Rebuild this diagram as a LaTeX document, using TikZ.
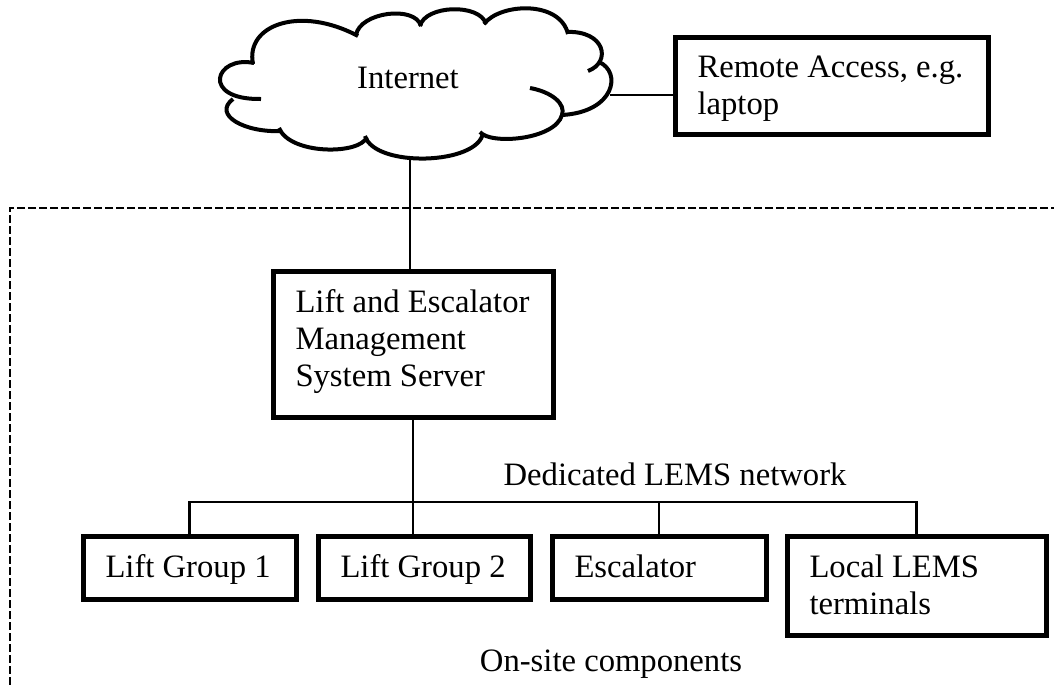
\documentclass[tikz,border=0pt]{standalone}
\usepackage{fontspec}
\setmainfont{Liberation Serif}
\usetikzlibrary{calc}
% left-aligned block of lines with a fixed width; fixed top height and
% bottom depth so that single-line boxes share one baseline
\newcommand{\unittext}[3][7.1pt]{\parbox{#2}{\rule{0pt}{27.1pt}#3\rule[-#1]{0pt}{#1}}}
\begin{document}
\begin{tikzpicture}[x=1pt,y=-1pt,
  font=\fontsize{32.66pt}{37pt}\selectfont,
  unit/.style={draw, line width=5pt, rectangle, inner xsep=22.5pt, inner ysep=0pt,
               anchor=north west},
  link/.style={line width=2.3pt},
  cloudline/.style={line width=4pt},
  boundary/.style={line width=2.8pt, dash pattern=on 8pt off 3pt}]
\useasboundingbox (0,0) rectangle (1054,686);
\clip (0,0) rectangle (1054,686);

% dashed boundary of the on-site part (runs off the right and bottom edges)
\coordinate (frameTL) at (10,208);
\draw[boundary] (1070,208) -- (frameTL) -- (10,700);

% Internet cloud, lobe by lobe
\begin{scope}[cloudline]
  \draw (253,64) .. controls (245,25) and (300,5) .. (358,36);
  \draw (356,35) .. controls (360,12) and (415,5) .. (421,26);
  \draw (420,26) .. controls (425,5) and (480,3) .. (486,24);
  \draw (484,24) .. controls (500,3) and (560,0) .. (568,34);
  \draw (566,32) .. controls (605,30) and (612,62) .. (588,71);
  \draw (599,62) .. controls (622,72) and (615,112) .. (562,115);
  \draw (530,88) .. controls (552,92) and (566,104) .. (562,115)
                 .. controls (555,140) and (490,145) .. (480,132);
  \draw (483,133) .. controls (478,165) and (375,168) .. (365,136);
  \draw (367,137) .. controls (360,155) and (290,155) .. (279,128);
  \draw (282,131) .. controls (245,133) and (212,115) .. (233,99);
  \draw (254,63) .. controls (215,55) and (200,100) .. (261,99);
\end{scope}
\node[anchor=base] (inet) at (408,88) {Internet};
\coordinate (cloudS) at (410,157);
\coordinate (cloudE) at (610,95);

% boxes
\node[unit, minimum height=97pt] (remote) at (672.5,34.5)
  {\unittext{268pt}{Remote Access, e.g.\\laptop}};
\node[unit, minimum height=146pt] (lems) at (270.5,268.5)
  {\unittext[16.1pt]{235pt}{Lift and Escalator\\Management\\System Server}};
\node[unit, minimum height=63pt] (lg1) at (80.5,533.5) {\unittext{168pt}{Lift Group 1}};
\node[unit, minimum height=63pt] (lg2) at (315.5,533.5) {\unittext{167pt}{Lift Group 2}};
\node[unit, minimum height=63pt] (esc) at (549.5,533.5) {\unittext{169pt}{Escalator}};
\node[unit, minimum height=99pt] (local) at (784.5,533.5)
  {\unittext{214pt}{Local LEMS\\terminals}};

% connections
\coordinate (bus) at (0,502);
\draw[link] (cloudS) -- (cloudS |- lems.north);
\draw[link] (cloudE) -- (cloudE -| remote.west);
\draw[link] (lems.south) -- (lems.south |- lg2.north);
\draw[link] (lg1.north) -- (lg1.north |- bus) -- (local.north |- bus) -- (local.north);
\draw[link] (esc.north) -- (esc.north |- bus);

% labels
\node[anchor=base] (netlabel) at (675,485) {Dedicated LEMS network};
\node[anchor=base] (sitelabel) at (611,671) {On-site components};
\end{tikzpicture}
\end{document}
